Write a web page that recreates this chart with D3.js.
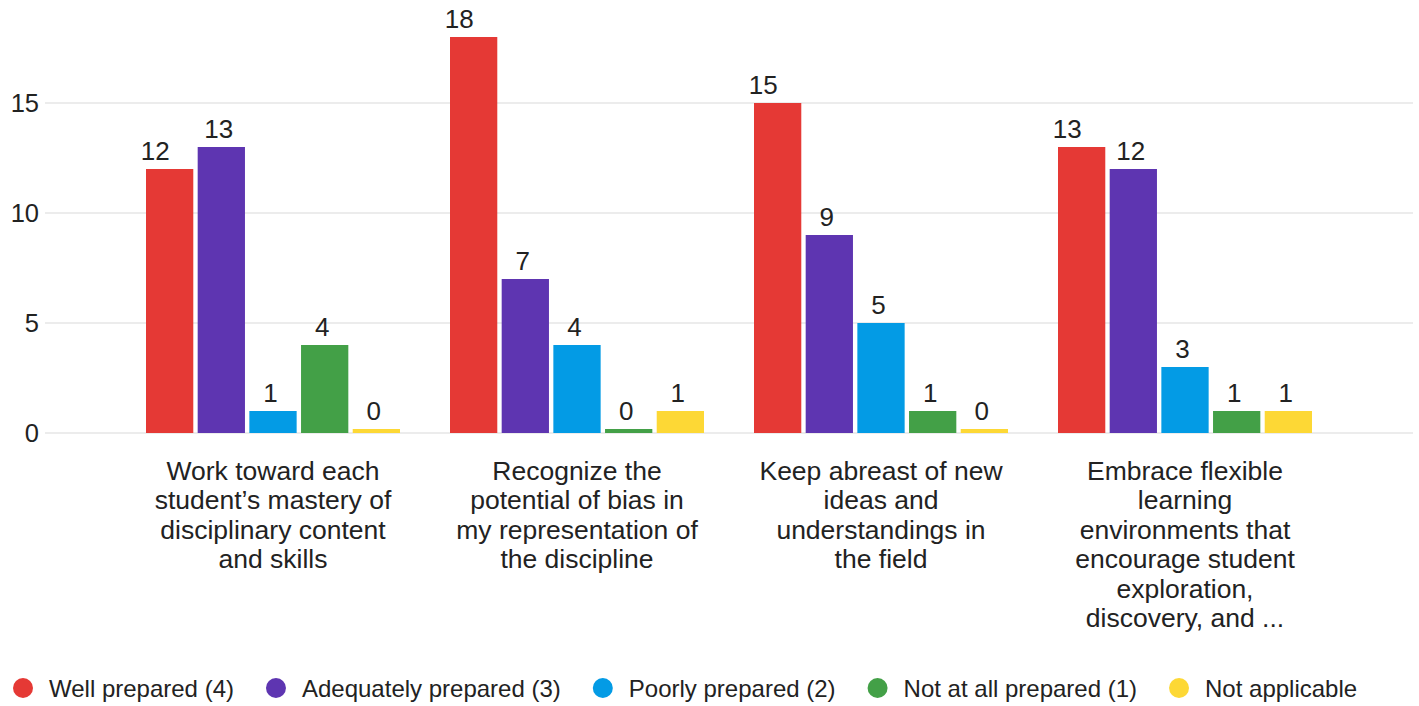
<!DOCTYPE html>
<html>
<head>
  <meta charset="utf-8">
  <title>Preparedness survey</title>
  <style>
    body { margin: 0; background: #fff; }
    text { font-family: "Liberation Sans", Arial, sans-serif; fill: #222; }
  </style>
</head>
<body>
  <script src="https://cdn.jsdelivr.net/npm/d3@7/dist/d3.min.js"></script>
  <script>
    // data
    var categories = [
      "Work toward each student\u2019s mastery of disciplinary content and skills",
      "Recognize the potential of bias in my representation of the discipline",
      "Keep abreast of new ideas and understandings in the field",
      "Embrace flexible learning environments that encourage student exploration, discovery, and ..."
    ];
    var categoryLines = [
      ["Work toward each", "student\u2019s mastery of", "disciplinary content", "and skills"],
      ["Recognize the", "potential of bias in", "my representation of", "the discipline"],
      ["Keep abreast of new", "ideas and", "understandings in", "the field"],
      ["Embrace flexible", "learning", "environments that", "encourage student", "exploration,", "discovery, and ..."]
    ];
    var seriesNames = ["Well prepared (4)", "Adequately prepared (3)", "Poorly prepared (2)",
                       "Not at all prepared (1)", "Not applicable"];
    var seriesColors = ["#e53935", "#5e35b1", "#039be5", "#43a047", "#fdd835"];
    var wellPrepared       = [12, 18, 15, 13];
    var adequatelyPrepared = [13, 7, 9, 12];
    var poorlyPrepared     = [1, 4, 5, 3];
    var notAtAllPrepared   = [4, 0, 1, 1];
    var notApplicable      = [0, 1, 0, 1];
    var yTicks = [0, 5, 10, 15];

    var seriesValues = [wellPrepared, adequatelyPrepared, poorlyPrepared, notAtAllPrepared, notApplicable];

    var W = 1419, H = 706;
    var plotLeft = 45, plotRight = 1413, baseY = 433;

    var svg = d3.select("body").append("svg")
      .attr("width", W)
      .attr("height", H);

    var x0 = d3.scaleBand()
      .domain(categories)
      .range([121, 1337])
      .padding(0);

    var x1 = d3.scaleBand()
      .domain(seriesNames)
      .range([25, 279])
      .paddingInner(0.085)
      .paddingOuter(0);

    var y = d3.scaleLinear()
      .domain([0, 15])
      .range([baseY, 103]);

    // gridlines
    svg.append("g")
      .selectAll("line")
      .data(yTicks)
      .enter().append("line")
      .attr("x1", plotLeft)
      .attr("x2", plotRight)
      .attr("y1", function(d) { return y(d); })
      .attr("y2", function(d) { return y(d); })
      .attr("stroke", "#e6e6e6")
      .attr("stroke-width", 1.5);

    // y axis labels
    var yAxis = svg.append("g")
      .attr("transform", "translate(39,0)")
      .call(d3.axisLeft(y).tickValues(yTicks).tickSize(0).tickPadding(0));
    yAxis.select(".domain").remove();
    yAxis.selectAll("text")
      .style("font-size", "25.5px")
      .style("fill", "#222")
      .style("font-family", "'Liberation Sans', Arial, sans-serif");

    // bars
    var rows = [];
    categories.forEach(function(c, i) {
      seriesNames.forEach(function(s, j) {
        rows.push({cat: c, series: s, idx: j, value: seriesValues[j][i], color: seriesColors[j]});
      });
    });

    var groups = svg.append("g").selectAll("g")
      .data(categories)
      .enter().append("g")
      .attr("transform", function(d) { return "translate(" + x0(d) + ",0)"; });

    groups.selectAll("rect")
      .data(function(c) { return rows.filter(function(r) { return r.cat === c; }); })
      .enter().append("rect")
      .attr("x", function(d) { return x1(d.series); })
      .attr("width", x1.bandwidth())
      .attr("y", function(d) { return Math.min(y(d.value), baseY - 4); })
      .attr("height", function(d) { return Math.max(baseY - y(d.value), 4); })
      .attr("fill", function(d) { return d.color; });

    // value labels (first series' labels sit a bit left of the bar centre, as in the original)
    groups.selectAll("text.val")
      .data(function(c) { return rows.filter(function(r) { return r.cat === c; }); })
      .enter().append("text")
      .attr("class", "val")
      .attr("x", function(d) {
        var shift = d.idx === 0 ? -14.5 : -2.5;
        return x1(d.series) + x1.bandwidth() / 2 + shift;
      })
      .attr("y", function(d) { return Math.min(y(d.value), baseY - 4) - 9; })
      .attr("text-anchor", "middle")
      .style("font-size", "26px")
      .text(function(d) { return d.value; });

    // category labels
    groups.append("text")
      .attr("text-anchor", "middle")
      .style("font-size", "26.5px")
      .selectAll("tspan")
      .data(function(c, i) { return categoryLines[i]; })
      .enter().append("tspan")
      .attr("x", x0.bandwidth() / 2)
      .attr("y", function(d, i) { return 480 + i * 29.4; })
      .text(function(d) { return d; });

    // legend
    var legend = svg.append("g");
    var cx = 23;
    seriesNames.forEach(function(s, j) {
      legend.append("circle")
        .attr("cx", cx)
        .attr("cy", 688)
        .attr("r", 10)
        .attr("fill", seriesColors[j]);
      var t = legend.append("text")
        .attr("x", cx + 26)
        .attr("y", 697)
        .style("font-size", "24px")
        .text(s);
      cx = cx + 26 + t.node().getComputedTextLength() + 42;
    });
  </script>
</body>
</html>
